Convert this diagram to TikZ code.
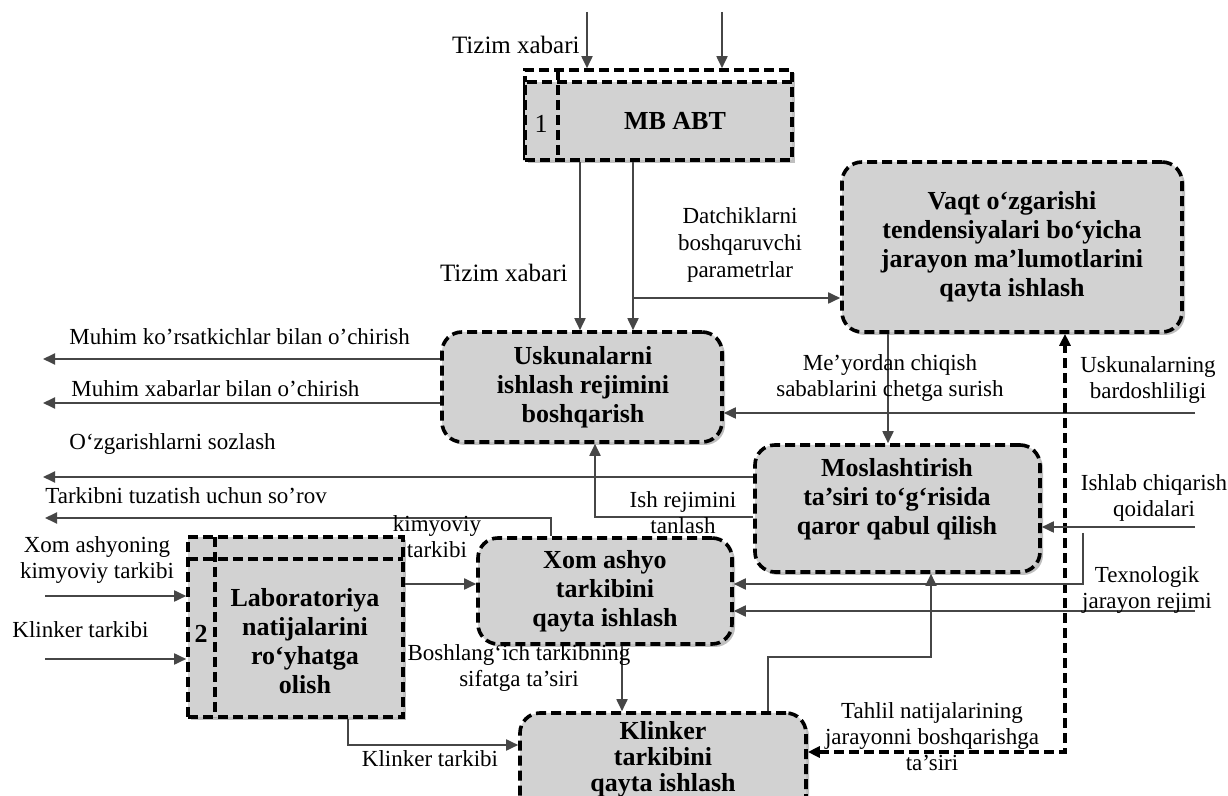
\documentclass[tikz,border=0pt]{standalone}
\usepackage{fontspec}
\setmainfont{Liberation Serif}
\usetikzlibrary{arrows.meta,fit,shadows}
\definecolor{boxgray}{RGB}{210,210,210}
\definecolor{lngray}{RGB}{70,70,70}
\begin{document}
\begin{tikzpicture}[x=0.5pt,y=-0.5pt,
  shd/.style={drop shadow={shadow xshift=1.5pt,shadow yshift=-1.5pt,opacity=0.25,fill=black}},
  sqbox/.style={draw=black, line width=1.8pt, dash pattern=on 5pt off 2.5pt, fill=boxgray, inner sep=0pt},
  box/.style={sqbox, rounded corners=10pt, shd},
  dsh/.style={draw=black, line width=1.8pt, dash pattern=on 5pt off 2.5pt},
  btxt/.style={font=\fontsize{13}{14.5}\selectfont\bfseries, align=center, inner sep=0pt},
  lbl/.style={font=\fontsize{11.5}{13}\selectfont, align=center, inner sep=0pt},
  tip/.tip={Triangle[length=6pt,width=5.5pt]},
  arr/.style={draw=lngray, line width=0.9pt, -tip},
  darr/.style={draw=black, line width=1.6pt, dash pattern=on 5pt off 2.5pt, tip-tip}]
\useasboundingbox (0,0) rectangle (1228,796);
\fill[white] (0,0) rectangle (1228,796);

% ---------- boxes ----------
% MB ABT (box 1)
\node[sqbox, fill=white, shd, fit={(525,70) (792,160)}] (mbo) {};
\node[sqbox, fit={(525,82) (792,160)}] (mbf) {};
\draw[dsh] (558,70) -- (558,160);
\node[btxt] (mbt) at (675,121) {MB ABT};
\node[font=\fontsize{13}{14}\selectfont, inner sep=0pt] (n1) at (541,124) {1};

% Vaqt
\node[box, fit={(842,162) (1182,332)}] (vaqt) {};
\node[btxt] (vaqtt) at (1012,247) {Vaqt o‘zgarishi\\tendensiyalari bo‘yicha\\jarayon ma’lumotlarini\\qayta ishlash};

% Uskunalarni
\node[box, fit={(442,332) (722,442)}] (usk) {};
\node[btxt] (uskt) at (583,387) {Uskunalarni\\ishlash rejimini\\boshqarish};

% Moslashtirish
\node[box, fit={(755,445) (1040,572)}] (mos) {};
\node[btxt] (most) at (897,499) {Moslashtirish\\ta’siri to‘g‘risida\\qaror qabul qilish};

% Xom ashyo
\node[box, fit={(478,538) (732,644)}] (xom) {};
\node[btxt] (xomt) at (605,591) {Xom ashyo\\tarkibini\\qayta ishlash};

% Klinker
\node[box, fit={(520,713) (806,818)}] (kli) {};
\node[btxt, font=\fontsize{13}{13}\selectfont\bfseries] (klit) at (663,759) {Klinker\\tarkibini\\qayta ishlash};

% Laboratoriya (box 2)
\node[sqbox, shd, fit={(188,537) (403,717)}] (lab) {};
\draw[dsh] (188,559) -- (403,559);
\draw[dsh] (215,537) -- (215,717);
\node[btxt] (labt) at (305,641) {Laboratoriya\\natijalarini\\ro‘yhatga\\olish};
\node[font=\fontsize{13}{14}\selectfont\bfseries, inner sep=0pt] (n2) at (201,634) {2};

% ---------- connectors ----------
\coordinate (tA) at (587,12);
\coordinate (tB) at (722,12);
\draw[arr] (tA) -- (tA |- mbo.north);
\draw[arr] (tB) -- (tB |- mbo.north);

\coordinate (xA) at (580,0);
\coordinate (xB) at (633,298);
\draw[arr] (mbo.south -| xA) -- (usk.north -| xA);
\draw[arr] (mbo.south -| xB) -- (usk.north -| xB);
\draw[arr] (xB) -- (xB -| vaqt.west);

\coordinate (oA) at (43,359);
\coordinate (oB) at (43,403);
\draw[arr] (usk.west |- oA) -- (oA);
\draw[arr] (usk.west |- oB) -- (oB);

\coordinate (xC) at (888,0);
\draw[arr] (vaqt.south -| xC) -- (mos.north -| xC);

\coordinate (iA) at (1195,413);
\draw[arr] (iA) -- (iA -| usk.east);

\coordinate (dC) at (1065,752);
\draw[darr] (kli.east |- dC) -- (dC) -- (vaqt.south -| dC);

\coordinate (oC) at (43,477);
\draw[arr] (mos.west |- oC) -- (oC);

\coordinate (cI) at (595,517);
\draw[arr] (mos.west |- cI) -- (cI) -- (usk.south -| cI);

\coordinate (cT) at (551,518);
\coordinate (oD) at (45,518);
\draw[arr] (xom.north -| cT) -- (cT) -- (oD);

\coordinate (iB) at (1195,527);
\draw[arr] (iB) -- (iB -| mos.east);

\coordinate (cX1) at (1083,533);
\coordinate (cX2) at (1083,584);
\draw[arr] (cX1) -- (cX2) -- (cX2 -| xom.east);

\coordinate (iC) at (1195,611);
\draw[arr] (iC) -- (iC -| xom.east);

\coordinate (lA) at (45,596);
\coordinate (lB) at (45,659);
\draw[arr] (lA) -- (lA -| lab.west);
\draw[arr] (lB) -- (lB -| lab.west);

\coordinate (lx) at (0,584);
\draw[arr] (lab.east |- lx) -- (xom.west |- lx);

\coordinate (xD) at (622,0);
\draw[arr] (xom.south -| xD) -- (kli.north -| xD);

\coordinate (cK) at (348,745);
\draw[arr] (lab.south -| cK) -- (cK) -- (cK -| kli.west);

\coordinate (cM1) at (768,657);
\coordinate (cM2) at (931,657);
\draw[arr] (kli.north -| cM1) -- (cM1) -- (cM2) -- (mos.south -| cM2);

% ---------- labels ----------
\node[lbl, font=\fontsize{12.5}{13}\selectfont, anchor=east] (L1) at (580,45) {Tizim xabari};
\node[lbl, font=\fontsize{12.5}{13}\selectfont, anchor=east] (L2) at (568,273) {Tizim xabari};
\node[lbl] (L3) at (740,245) {Datchiklarni\\[0.5pt]boshqaruvchi\\[0.5pt]parametrlar};
\node[lbl, anchor=west] (L4) at (69,337) {Muhim ko’rsatkichlar bilan o’chirish};
\node[lbl, anchor=west] (L5) at (71,389) {Muhim xabarlar bilan o’chirish};
\node[lbl, anchor=west] (L6) at (69,444) {O‘zgarishlarni sozlash};
\node[lbl, anchor=west] (L7) at (45,496) {Tarkibni tuzatish uchun so’rov};
\node[lbl] (L8) at (890,378) {Me’yordan chiqish\\sabablarini chetga surish};
\node[lbl] (L9) at (1148,380) {Uskunalarning\\bardoshliligi};
\node[lbl] (L10) at (683,513) {Ish rejimini\\tanlash};
\node[lbl] (L11) at (1154,498) {Ishlab chiqarish\\qoidalari};
\node[lbl] (L12) at (1147,590) {Texnologik\\jarayon rejimi};
\node[lbl] (L13) at (437,537) {kimyoviy\\tarkibi};
\node[lbl] (L14) at (97,560) {Xom ashyoning\\kimyoviy tarkibi};
\node[lbl, anchor=west] (L15) at (12,630) {Klinker tarkibi};
\node[lbl] (L16) at (519,668) {Boshlang‘ich tarkibning\\sifatga ta’siri};
\node[lbl] (L17) at (430,759) {Klinker tarkibi};
\node[lbl] (L18) at (932,737) {Tahlil natijalarining\\jarayonni boshqarishga\\ta’siri};
\end{tikzpicture}
\end{document}
